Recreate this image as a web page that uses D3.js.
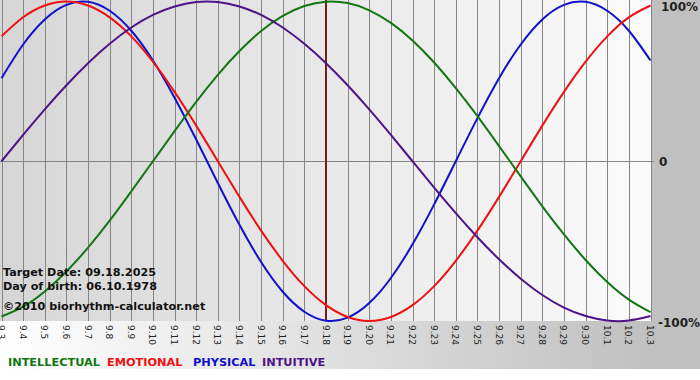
<!DOCTYPE html>
<html><head><meta charset="utf-8">
<script src="https://cdn.jsdelivr.net/npm/d3@7"></script>
<style>html,body{margin:0;padding:0;background:#fff;}svg{display:block;}</style>
</head><body>
<svg id="c" width="700" height="380"></svg>
<script>
const days = ["9.3","9.4","9.5","9.6","9.7","9.8","9.9","9.10","9.11","9.12","9.13","9.14","9.15","9.16","9.17","9.18","9.19","9.20","9.21","9.22","9.23","9.24","9.25","9.26","9.27","9.28","9.29","9.30","10.1","10.2","10.3"];
const intellectual = [-0.972,-0.910,-0.815,-0.690,-0.541,-0.372,-0.189,0,0.189,0.372,0.541,0.690,0.815,0.910,0.972,0.999,0.990,0.945,0.866,0.756,0.618,0.458,0.282,0.095,-0.095,-0.282,-0.458,-0.618,-0.756,-0.866,-0.945];
const emotional = [0.782,0.901,0.975,1,0.975,0.901,0.782,0.623,0.434,0.223,0,-0.223,-0.434,-0.623,-0.782,-0.901,-0.975,-1,-0.975,-0.901,-0.782,-0.623,-0.434,-0.223,0,0.223,0.434,0.623,0.782,0.901,0.975];
const physical = [0.520,0.731,0.888,0.979,0.998,0.942,0.817,0.631,0.398,0.136,-0.136,-0.398,-0.631,-0.817,-0.942,-0.998,-0.979,-0.888,-0.731,-0.520,-0.270,0,0.270,0.520,0.731,0.888,0.979,0.998,0.942,0.817,0.631];
const intuitive = [0,0.165,0.325,0.476,0.614,0.735,0.837,0.916,0.969,0.997,0.997,0.969,0.916,0.837,0.735,0.614,0.476,0.325,0.165,0,-0.165,-0.325,-0.476,-0.614,-0.735,-0.837,-0.916,-0.969,-0.997,-0.997,-0.969];
const seriesNames = ["INTELLECTUAL","EMOTIONAL","PHYSICAL","INTUITIVE"];
const seriesColors = ["#117711","#ee1111","#1111cc","#4d1488"];
const yTicks = [1,0,-1];
const yTickLabels = ["100%","0","-100%"];
const targetDay = "9.18";
const infoLines = ["Target Date: 09.18.2025","Day of birth: 06.10.1978","©2010 biorhythm-calculator.net"];

const svg = d3.select("#c");
const defs = svg.append("defs");
const g1 = defs.append("linearGradient").attr("id","outer").attr("x1","0").attr("x2","1").attr("y1","0").attr("y2","0");
g1.append("stop").attr("offset","0").attr("stop-color","#ffffff");
g1.append("stop").attr("offset","0.93").attr("stop-color","#c0c0c0");
g1.append("stop").attr("offset","1").attr("stop-color","#c0c0c0");
const g2 = defs.append("linearGradient").attr("id","plot").attr("x1","0").attr("x2","1").attr("y1","0").attr("y2","0");
g2.append("stop").attr("offset","0").attr("stop-color","#d6d6d6");
g2.append("stop").attr("offset","1").attr("stop-color","#fbfbfb");

svg.append("rect").attr("x",0).attr("y",0).attr("width",700).attr("height",369).attr("fill","url(#outer)");

const x = d3.scalePoint().domain(days).range([1.5,650.5]);
const y = d3.scaleLinear().domain([-1,1]).range([321,1.5]);

svg.append("rect").attr("x",0).attr("y",0).attr("width",651).attr("height",321).attr("fill","url(#plot)");

// vertical gridlines
svg.append("g").selectAll("line").data(days).join("line")
  .attr("x1",d=>Math.round(x(d))+0.5).attr("x2",d=>Math.round(x(d))+0.5)
  .attr("y1",0).attr("y2",321).attr("stroke","#858585").attr("stroke-width",1);
// zero line
svg.append("line").attr("x1",0).attr("x2",654).attr("y1",Math.round(y(0))+0.5).attr("y2",Math.round(y(0))+0.5)
  .attr("stroke","#858585").attr("stroke-width",1);

// x axis labels rotated
svg.append("g").selectAll("text").data(days).join("text")
  .attr("transform",d=>`translate(${x(d)-3.5},325) rotate(90)`)
  .attr("font-family","DejaVu Sans, Verdana, sans-serif").attr("font-size","9px").attr("fill","#222")
  .text(d=>d);

// y labels
const yLab = [{x:661,y:11},{x:659,y:166},{x:658,y:327}];
svg.append("g").selectAll("text").data(yTicks).join("text")
  .attr("x",(d,i)=>yLab[i].x)
  .attr("y",(d,i)=>yLab[i].y)
  .attr("font-family","DejaVu Sans, Verdana, sans-serif").attr("font-weight","bold").attr("font-size","12px").attr("fill","#222")
  .text((d,i)=>yTickLabels[i]);

// target marker
svg.append("line").attr("x1",x(targetDay)).attr("x2",x(targetDay)).attr("y1",0).attr("y2",321)
  .attr("stroke","#7a1a1a").attr("stroke-width",2);

const line = d3.line().x((d,i)=>x(days[i])).y(d=>y(d)).curve(d3.curveNatural);
const data = [intellectual, emotional, physical, intuitive];
const order = [2,1,0,3];
svg.append("g").selectAll("path").data(order).join("path")
  .attr("d",k=>line(data[k])).attr("fill","none").attr("stroke",k=>seriesColors[k]).attr("stroke-width",2);

// info text
svg.append("g").selectAll("text").data(infoLines).join("text")
  .attr("x",3).attr("y",(d,i)=>[276,290,310][i])
  .attr("font-family","DejaVu Sans, Verdana, sans-serif").attr("font-weight","bold").attr("font-size","11.2px").attr("fill","#111")
  .text(d=>d);

// legend
const legX = [8,107,193,262];
svg.append("g").selectAll("text").data(seriesNames).join("text")
  .attr("x",(d,i)=>legX[i]).attr("y",366)
  .attr("font-family","DejaVu Sans, Verdana, sans-serif").attr("font-weight","bold").attr("font-size","11.3px")
  .attr("fill",(d,i)=>seriesColors[i])
  .text(d=>d);
</script>
</body></html>
